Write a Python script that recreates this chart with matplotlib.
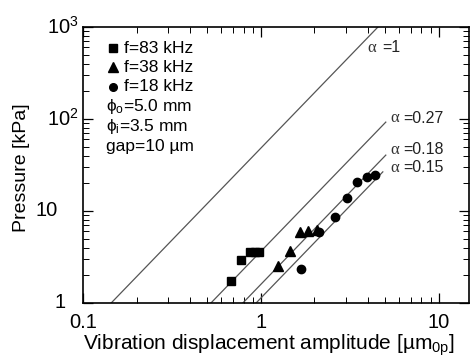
import numpy as np
import matplotlib
matplotlib.use("Agg")
import matplotlib.pyplot as plt
from matplotlib.transforms import blended_transform_factory

plt.rcParams['font.family'] = ['Liberation Sans', 'DejaVu Sans']
plt.rcParams['mathtext.fontset'] = 'custom'
plt.rcParams['mathtext.rm'] = 'Liberation Sans'
plt.rcParams['mathtext.it'] = 'Liberation Sans:italic'

# ---- data ----
sq_A = [0.678, 0.772, 0.867, 0.926, 0.975]
sq_P = [1.73, 2.93, 3.54, 3.56, 3.58]
tri_A = [1.25, 1.455, 1.65, 1.84, 2.07]
tri_P = [2.52, 3.72, 5.9, 6.06, 6.2]
cir_A = [1.69, 2.12, 2.61, 3.04, 3.49, 3.93, 4.37]
cir_P = [2.34, 5.91, 8.67, 13.7, 20.8, 23.6, 24.6]

alpha_labels = ['1', '0.27', '0.18', '0.15']
alpha_A_at_1kPa = [0.144, 0.524, 0.792, 0.94]
alpha_A_end = [5.0, 5.04, 5.04, 4.85]

legend_labels = ['f=83 kHz', 'f=38 kHz', 'f=18 kHz']
x_ticks = [0.1, 1, 10]
x_ticklabels = ['0.1', '1', '10']
y_ticks = [1, 10, 100, 1000]
y_ticklabels = ['1', '10', r'$\mathregular{10^2}$', r'$\mathregular{10^3}$']

W, H = 475, 358
fig = plt.figure(figsize=(W / 100, H / 100), dpi=100)
ax = fig.add_axes([83 / W, 1 - 303 / H, 386 / W, 276 / H])
ax.set_xscale('log')
ax.set_yscale('log')
ax.set_xlim(0.1, 14.8)
ax.set_ylim(1, 1000)

line_col = '#555555'
for A0, Aend in zip(alpha_A_at_1kPa, alpha_A_end):
    A = np.geomspace(A0, Aend, 50)
    ax.plot(A, (A / A0) ** 2, color=line_col, lw=0.9, zorder=2)

ax.plot(sq_A, sq_P, 's', color='black', ms=6.3, ls='none', zorder=3)
ax.plot(tri_A, tri_P, '^', color='black', ms=7, ls='none', zorder=3)
ax.plot(cir_A, cir_P, 'o', color='black', ms=6, ls='none', zorder=3)

# alpha labels (pixel positions)
alpha_pos = [(367, 48, 382), (390, 118, 403), (390, 150, 403), (390, 168, 403)]
for lab, (xa, ya, xt) in zip(alpha_labels, alpha_pos):
    fig.text(xa / W, 1 - ya / H, 'α', family='Liberation Serif', fontsize=12,
             ha='left', va='center', color='#333333')
    fig.text(xt / W, 1 - ya / H, '=' + lab, fontsize=11.5, ha='left',
             va='center', color='#222222')

# legend block
rows = [48.3, 67.3, 86.7, 106, 126, 146.5]
markers = ['s', '^', 'o']
msz = [5.5, 6.5, 5.5]
for i, (lab, m) in enumerate(zip(legend_labels, markers)):
    fig.lines.append(plt.Line2D([112.7 / W], [1 - rows[i] / H], marker=m,
                                color='black', ms=msz[i], ls='none',
                                transform=fig.transFigure))
    fig.text(124 / W, 1 - rows[i] / H, lab, fontsize=12.5, ha='left', va='center')
fig.text(106 / W, 1 - rows[3] / H, r'ϕ$\mathregular{_{o}}$=5.0 mm', fontsize=12.5,
         ha='left', va='center')
fig.text(106 / W, 1 - rows[4] / H, r'ϕ$\mathregular{_{i}}$=3.5 mm', fontsize=12.5,
         ha='left', va='center')
fig.text(106 / W, 1 - rows[5] / H, 'gap=10 µm', fontsize=12.5, ha='left', va='center')

# ticks
ax.tick_params(which='both', direction='in', top=True, right=True)
ax.tick_params(which='major', length=7, width=0.9)
ax.tick_params(which='minor', length=4, width=0.7)
ax.set_xticks(x_ticks)
ax.set_xticklabels(x_ticklabels, fontsize=14.5)
ax.tick_params(axis='x', which='major', pad=7)
ax.set_yticks(y_ticks)
ax.set_yticklabels([])
for sp in ax.spines.values():
    sp.set_linewidth(1.2)

trans = blended_transform_factory(fig.transFigure, ax.transData)
y_label_right = [66, 58, 79, 79]
for v, lab, xr in zip(y_ticks, y_ticklabels, y_label_right):
    ax.text(xr / W, v, lab, transform=trans, ha='right', va='center',
            fontsize=14.5, clip_on=False)

fig.text(83 / W, 1 - 345 / H,
         r'Vibration displacement amplitude [µm$\mathregular{_{0p}}$]',
         fontsize=15, ha='left', va='center')
fig.text(22 / W, 1 - 168 / H, 'Pressure [kPa]', fontsize=14, rotation=90,
         ha='center', va='center')

fig.savefig('out.png', dpi=100)
